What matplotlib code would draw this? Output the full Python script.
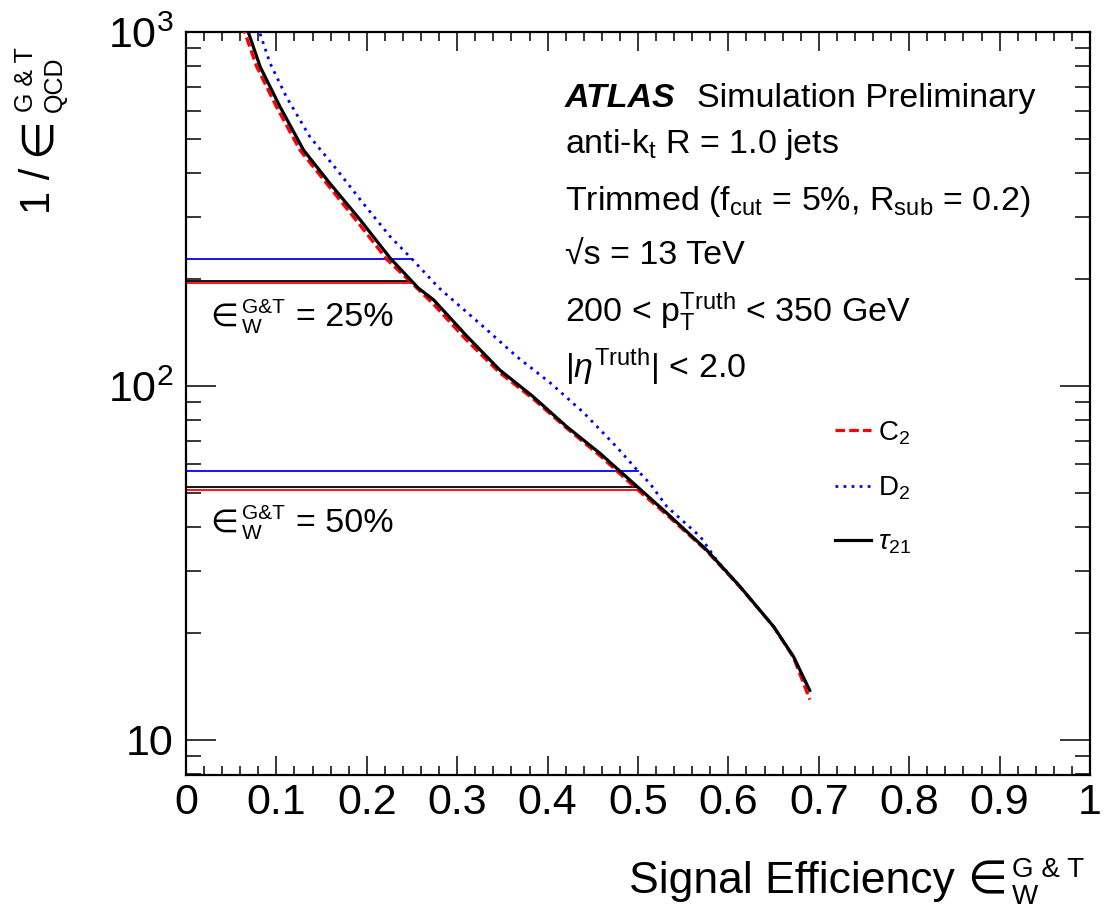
import numpy as np
import matplotlib
matplotlib.use("Agg")
import matplotlib.pyplot as plt
from matplotlib.transforms import IdentityTransform
from matplotlib.ticker import FixedLocator, MultipleLocator, LogLocator, NullFormatter, FuncFormatter

plt.rcParams['font.family'] = ['Liberation Sans', 'DejaVu Sans']
plt.rcParams['mathtext.fontset'] = 'custom'
plt.rcParams['mathtext.rm'] = 'Liberation Sans'
plt.rcParams['mathtext.it'] = 'Liberation Sans:italic'
plt.rcParams['mathtext.bf'] = 'Liberation Sans:bold'

# ROC curves: signal efficiency vs inverse background efficiency
eff_c2 = [0.062, 0.078, 0.100, 0.126, 0.156, 0.190, 0.222, 0.250, 0.273, 0.310,
          0.347, 0.384, 0.421, 0.458, 0.500, 0.532, 0.576, 0.613, 0.650, 0.672, 0.690]
rej_c2 = [1050, 800, 615, 464, 372, 290, 228, 195, 171, 135,
          109, 92, 76, 63.5, 50.8, 43.2, 34.2, 27.0, 20.9, 17.1, 13.0]

eff_d2 = [0.079, 0.093, 0.111, 0.137, 0.167, 0.196, 0.226, 0.251, 0.280, 0.329,
          0.366, 0.403, 0.440, 0.476, 0.499, 0.513, 0.532, 0.569, 0.587, 0.613,
          0.650, 0.672, 0.688]
rej_d2 = [1040, 816, 656, 506, 408, 328, 264, 227, 189, 147,
          121, 102, 84.0, 67.4, 57.9, 53.1, 45.6, 37.5, 32.2, 27.1,
          20.9, 17.2, 14.0]

eff_tau21 = [0.066, 0.082, 0.104, 0.130, 0.159, 0.193, 0.226, 0.257, 0.274, 0.311,
             0.347, 0.384, 0.421, 0.458, 0.495, 0.532, 0.576, 0.613, 0.650, 0.672, 0.690]
rej_tau21 = [1050, 798, 615, 464, 374, 294, 229.5, 189, 175, 138,
             111, 93.3, 76.8, 64.5, 53.1, 43.7, 34.4, 27.1, 20.9, 17.2, 13.8]

working_points = [0.25, 0.50]
wp_labels = ["= 25%", "= 50%"]

x_ticks = [0, 0.1, 0.2, 0.3, 0.4, 0.5, 0.6, 0.7, 0.8, 0.9, 1]
x_ticklabels = ["0", "0.1", "0.2", "0.3", "0.4", "0.5", "0.6", "0.7", "0.8", "0.9", "1"]

info_lines = [
    r"anti-k$_{\mathrm{t}}$ R = 1.0 jets",
    r"Trimmed (f$_{\mathrm{cut}}$ = 5%, R$_{\mathrm{sub}}$ = 0.2)",
    "\u221as = 13 TeV",
    r"200 < p$_{\mathrm{T}}^{\mathrm{Truth}}$ < 350 GeV",
    r"|$\eta^{\mathrm{Truth}}$| < 2.0",
]

W, H = 1114, 915
fig = plt.figure(figsize=(W / 100, H / 100), dpi=100)
ax = fig.add_axes([186 / W, 1 - 775 / H, 904 / W, 743 / H])
renderer = fig.canvas.get_renderer()
PIX = IdentityTransform()


def text_run(x, y, run, rotation=0):
    """Lay out a sequence of text pieces and stacked sub/superscripts, in pixels from top-left."""
    d = np.array([1.0, 0.0]) if rotation == 0 else np.array([0.0, 1.0])
    n = np.array([0.0, 1.0]) if rotation == 0 else np.array([-1.0, 0.0])
    pos = np.array([x, H - y], float)
    kw = dict(transform=PIX, rotation=rotation, rotation_mode="anchor",
              ha="left", va="baseline")

    def length(t):
        bb = t.get_window_extent(renderer)
        return bb.width if rotation == 0 else bb.height

    for item in run:
        if item[0] == "t":
            _, s, size, gap = item
            pos = pos + d * gap
            L = length(fig.text(pos[0], pos[1], s, fontsize=size, **kw))
        else:
            _, sup, sub, size, up, down, gap = item
            pos = pos + d * gap
            p1 = pos + n * up
            p2 = pos - n * down
            t1 = fig.text(p1[0], p1[1], sup, fontsize=size, **kw)
            t2 = fig.text(p2[0], p2[1], sub, fontsize=size, **kw)
            L = max(length(t1), length(t2))
        pos = pos + d * L


series = [
    (eff_c2, rej_c2, "#ff0000", dict(linestyle=(0, (3.0, 1.3)), lw=2.3), r"C$_{\mathrm{2}}$"),
    (eff_d2, rej_d2, "#0000ff", dict(linestyle=(0, (1.0, 1.9)), lw=2.0), r"D$_{\mathrm{2}}$"),
    (eff_tau21, rej_tau21, "#000000", dict(linestyle="-", lw=2.3), r"$\tau_{\mathrm{21}}$"),
]

# Working-point lines: rejection at fixed efficiency
for eff, rej, col, style, lab in series:
    for wp in working_points:
        r = 10 ** np.interp(wp, eff, np.log10(rej))
        ax.plot([0, wp], [r, r], color=col, lw=1.3, zorder=2)

handles = []
for eff, rej, col, style, lab in series:
    h, = ax.plot(eff, rej, color=col, label=lab, zorder=3, **style)
    handles.append(h)

ax.set_yscale("log")
ax.set_xlim(0, 1)
ax.set_ylim(7.96, 1000)

ax.xaxis.set_major_locator(FixedLocator(x_ticks))
ax.set_xticklabels(x_ticklabels)
ax.xaxis.set_minor_locator(MultipleLocator(0.02))
ax.yaxis.set_major_locator(FixedLocator([10, 100, 1000]))
ax.yaxis.set_major_formatter(FuncFormatter(
    lambda v, p: "10" if abs(v - 10) < 1e-6 else r"10$^{%d}$" % round(np.log10(v))))
ax.yaxis.set_minor_locator(LogLocator(base=10, subs=np.arange(2, 10)))
ax.yaxis.set_minor_formatter(NullFormatter())

ax.tick_params(axis="both", which="both", direction="in", top=True, right=True, width=1.1)
ax.tick_params(axis="x", which="major", length=13.5, labelsize=31, pad=6)
ax.tick_params(axis="x", which="minor", length=6.5)
ax.tick_params(axis="y", which="major", length=21.5, labelsize=31, pad=9)
ax.tick_params(axis="y", which="minor", length=10.8)
for s in ax.spines.values():
    s.set_linewidth(1.6)

# Axis titles
text_run(629, 893, [("t", "Signal Efficiency ", 32, 0), ("t", "\u2208", 33, 0),
                    ("s", "G & T", "W", 20, 16, 11, 5)])
text_run(50, 214, [("t", "1 / ", 30, 0), ("t", "\u2208", 32, 0),
                   ("s", "G & T", "QCD", 18, 17, 12, 5)], rotation=90)

# Descriptive labels
tx = (565 - 186) / 904
fig_to_ax = lambda ypix: (775 - ypix) / 743
FS = 24.5
ax.text(tx, fig_to_ax(107), "ATLAS", transform=ax.transAxes, fontsize=FS,
        fontweight="bold", fontstyle="italic", va="baseline")
ax.text((697 - 186) / 904, fig_to_ax(107), "Simulation Preliminary", transform=ax.transAxes,
        fontsize=FS, va="baseline")
baselines = [153, 210, 265, 322, 378]
for yb, line in zip(baselines, info_lines):
    ax.text(tx, fig_to_ax(yb), line, transform=ax.transAxes, fontsize=FS, va="baseline")

# Working-point captions
wp_baselines = [326, 532]
for yb, lab in zip(wp_baselines, wp_labels):
    text_run(210, yb, [("t", "\u2208", 23, 0), ("s", "G&T", "W", 15, 13, 7, 4),
                       ("t", lab, 24.5, 11)])

ax.legend(handles=handles, loc="upper left", bbox_to_anchor=((835 - 186) / 904, fig_to_ax(419)),
          frameon=False, fontsize=20, handlelength=1.3, handletextpad=0.25,
          labelspacing=1.0, borderpad=0, borderaxespad=0)

fig.savefig("out.png", dpi=100)
